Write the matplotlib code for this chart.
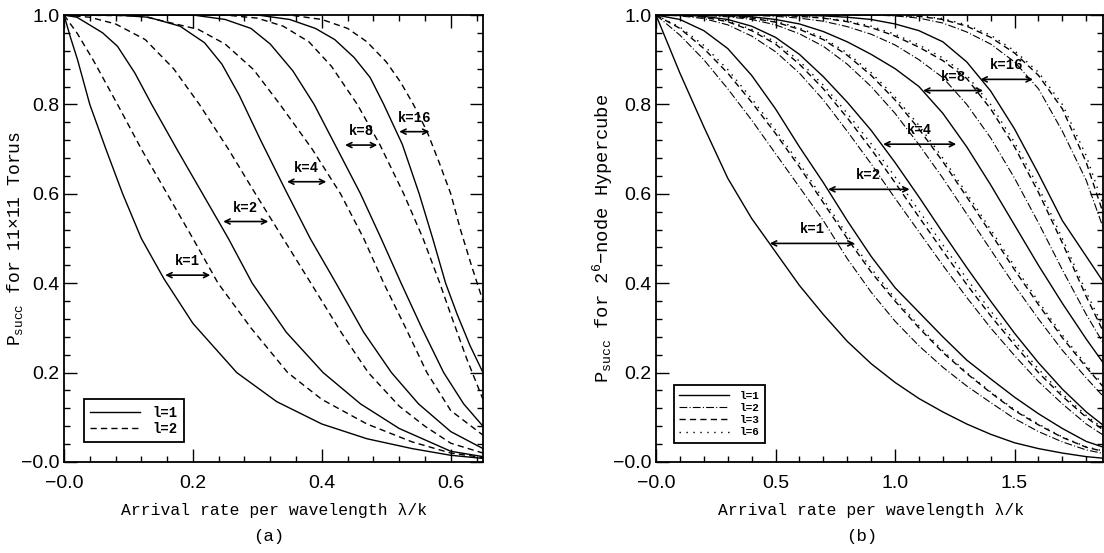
import matplotlib
matplotlib.use("Agg")
import matplotlib.pyplot as plt
from matplotlib.ticker import MultipleLocator, FixedLocator, FixedFormatter

plt.rcParams['mathtext.fontset'] = 'custom'
plt.rcParams['mathtext.rm'] = 'Liberation Mono'
plt.rcParams['mathtext.it'] = 'Liberation Mono:italic'
plt.rcParams['mathtext.bf'] = 'Liberation Mono:bold'

MONO = 'Liberation Mono'
SANS = 'Liberation Sans'

# ---------------- Panel (a): 11x11 Torus ----------------
a_k1_l1_x = [0, 0.01, 0.021, 0.04, 0.065, 0.091, 0.12, 0.155, 0.2, 0.268, 0.33, 0.4, 0.47, 0.54, 0.6, 0.65]
a_k1_l1_y = [1.0, 0.95, 0.90, 0.80, 0.70, 0.60, 0.50, 0.41, 0.31, 0.20, 0.135, 0.085, 0.052, 0.03, 0.015, 0.008]
a_k1_l2_x = [0, 0.02, 0.045, 0.083, 0.12, 0.16, 0.2, 0.239, 0.29, 0.347, 0.4, 0.47, 0.54, 0.6, 0.65]
a_k1_l2_y = [1.0, 0.96, 0.90, 0.80, 0.70, 0.60, 0.50, 0.40, 0.30, 0.20, 0.14, 0.085, 0.045, 0.02, 0.01]
a_k2_l1_x = [0, 0.02, 0.035, 0.06, 0.083, 0.11, 0.136, 0.175, 0.215, 0.255, 0.292, 0.345, 0.402, 0.46, 0.52, 0.6, 0.65]
a_k2_l1_y = [1.0, 0.995, 0.982, 0.96, 0.93, 0.87, 0.80, 0.70, 0.60, 0.50, 0.40, 0.29, 0.20, 0.13, 0.075, 0.024, 0.012]
a_k2_l2_x = [0, 0.04, 0.08, 0.126, 0.17, 0.21, 0.255, 0.297, 0.34, 0.383, 0.43, 0.472, 0.52, 0.56, 0.6, 0.65]
a_k2_l2_y = [1.0, 0.995, 0.98, 0.945, 0.88, 0.80, 0.70, 0.60, 0.50, 0.40, 0.29, 0.20, 0.125, 0.08, 0.042, 0.02]
a_k4_l1_x = [0, 0.08, 0.131, 0.18, 0.218, 0.245, 0.272, 0.305, 0.343, 0.382, 0.422, 0.465, 0.508, 0.55, 0.6, 0.65]
a_k4_l1_y = [1.0, 1.0, 0.995, 0.975, 0.938, 0.89, 0.82, 0.72, 0.61, 0.50, 0.40, 0.29, 0.20, 0.13, 0.068, 0.03]
a_k4_l2_x = [0, 0.12, 0.208, 0.25, 0.294, 0.335, 0.385, 0.429, 0.465, 0.496, 0.53, 0.563, 0.6, 0.65]
a_k4_l2_y = [1.0, 0.998, 0.968, 0.935, 0.878, 0.80, 0.70, 0.60, 0.50, 0.40, 0.30, 0.20, 0.115, 0.06]
a_k8_l1_x = [0, 0.2, 0.25, 0.29, 0.32, 0.355, 0.388, 0.424, 0.46, 0.492, 0.523, 0.555, 0.589, 0.62, 0.65]
a_k8_l1_y = [1.0, 1.0, 0.99, 0.97, 0.935, 0.875, 0.80, 0.70, 0.60, 0.50, 0.40, 0.30, 0.20, 0.13, 0.08]
a_k8_l2_x = [0, 0.25, 0.3, 0.34, 0.38, 0.415, 0.455, 0.49, 0.527, 0.557, 0.583, 0.6, 0.625, 0.65]
a_k8_l2_y = [1.0, 1.0, 0.993, 0.975, 0.94, 0.885, 0.80, 0.71, 0.60, 0.50, 0.40, 0.33, 0.23, 0.14]
a_k16_l1_x = [0, 0.3, 0.35, 0.39, 0.42, 0.45, 0.475, 0.496, 0.525, 0.551, 0.572, 0.592, 0.61, 0.63, 0.65]
a_k16_l1_y = [1.0, 1.0, 0.99, 0.97, 0.945, 0.905, 0.86, 0.80, 0.71, 0.60, 0.50, 0.40, 0.33, 0.26, 0.20]
a_k16_l2_x = [0, 0.35, 0.4, 0.44, 0.47, 0.5, 0.522, 0.542, 0.563, 0.582, 0.6, 0.615, 0.632, 0.65]
a_k16_l2_y = [1.0, 1.0, 0.99, 0.97, 0.94, 0.895, 0.85, 0.80, 0.74, 0.67, 0.60, 0.52, 0.44, 0.36]

a_arrow_labels = ['k=1', 'k=2', 'k=4', 'k=8', 'k=16']
a_arrow_y = [0.418, 0.538, 0.627, 0.709, 0.739]
a_arrow_x0 = [0.157, 0.247, 0.346, 0.436, 0.520]
a_arrow_x1 = [0.227, 0.317, 0.407, 0.486, 0.567]

# ---------------- Panel (b): 2^6-node Hypercube ----------------
b_x = [0.0, 0.1, 0.2, 0.3, 0.4, 0.5, 0.6, 0.7, 0.8, 0.9, 1.0, 1.1, 1.2, 1.3, 1.4, 1.5, 1.6, 1.7, 1.8, 1.9]
b_k1_l1 = [1.0, 0.87, 0.75, 0.635, 0.545, 0.47, 0.395, 0.33, 0.27, 0.22, 0.178, 0.142, 0.112, 0.085, 0.062, 0.043, 0.03, 0.02, 0.012, 0.007]
b_k1_l2 = [1.0, 0.955, 0.9, 0.835, 0.765, 0.69, 0.615, 0.54, 0.455, 0.38, 0.315, 0.26, 0.212, 0.17, 0.133, 0.097, 0.068, 0.045, 0.027, 0.016]
b_k1_l3 = [1.0, 0.97, 0.925, 0.87, 0.805, 0.735, 0.66, 0.58, 0.5, 0.425, 0.36, 0.3, 0.245, 0.198, 0.155, 0.115, 0.083, 0.055, 0.033, 0.02]
b_k1_l6 = [1.0, 0.973, 0.932, 0.878, 0.813, 0.743, 0.668, 0.588, 0.508, 0.433, 0.366, 0.305, 0.249, 0.2, 0.157, 0.117, 0.085, 0.056, 0.034, 0.021]
b_k2_l1 = [1.0, 0.99, 0.965, 0.925, 0.865, 0.79, 0.705, 0.625, 0.54, 0.46, 0.39, 0.335, 0.28, 0.228, 0.186, 0.145, 0.108, 0.075, 0.046, 0.028]
b_k2_l2 = [1.0, 0.998, 0.992, 0.978, 0.953, 0.918, 0.87, 0.81, 0.74, 0.667, 0.59, 0.515, 0.44, 0.368, 0.3, 0.238, 0.18, 0.13, 0.085, 0.05]
b_k2_l3 = [1.0, 0.999, 0.995, 0.985, 0.965, 0.935, 0.89, 0.835, 0.77, 0.7, 0.625, 0.548, 0.472, 0.397, 0.327, 0.262, 0.2, 0.147, 0.1, 0.06]
b_k2_l6 = [1.0, 0.999, 0.996, 0.987, 0.968, 0.94, 0.897, 0.843, 0.78, 0.712, 0.638, 0.562, 0.486, 0.41, 0.338, 0.271, 0.208, 0.152, 0.104, 0.063]
b_k4_l1 = [1.0, 1.0, 0.997, 0.99, 0.975, 0.95, 0.912, 0.862, 0.805, 0.742, 0.67, 0.593, 0.513, 0.435, 0.36, 0.288, 0.222, 0.163, 0.112, 0.07]
b_k4_l2 = [1.0, 1.0, 0.999, 0.996, 0.99, 0.978, 0.958, 0.93, 0.89, 0.84, 0.78, 0.71, 0.635, 0.555, 0.475, 0.395, 0.32, 0.25, 0.188, 0.13]
b_k4_l3 = [1.0, 1.0, 1.0, 0.998, 0.993, 0.984, 0.968, 0.945, 0.91, 0.865, 0.81, 0.745, 0.672, 0.593, 0.512, 0.43, 0.352, 0.278, 0.212, 0.15]
b_k4_l6 = [1.0, 1.0, 1.0, 0.998, 0.994, 0.986, 0.971, 0.949, 0.915, 0.871, 0.817, 0.753, 0.68, 0.601, 0.52, 0.438, 0.359, 0.284, 0.217, 0.155]
b_k8_l1 = [1.0, 1.0, 1.0, 0.999, 0.996, 0.99, 0.98, 0.963, 0.94, 0.912, 0.88, 0.84, 0.78, 0.705, 0.62, 0.53, 0.44, 0.355, 0.275, 0.2]
b_k8_l2 = [1.0, 1.0, 1.0, 1.0, 0.999, 0.997, 0.993, 0.986, 0.974, 0.957, 0.933, 0.9, 0.86, 0.8, 0.725, 0.635, 0.535, 0.43, 0.33, 0.24]
b_k8_l3 = [1.0, 1.0, 1.0, 1.0, 1.0, 0.999, 0.997, 0.993, 0.985, 0.972, 0.953, 0.928, 0.898, 0.858, 0.79, 0.705, 0.603, 0.49, 0.37, 0.26]
b_k8_l6 = [1.0, 1.0, 1.0, 1.0, 1.0, 0.999, 0.997, 0.994, 0.987, 0.975, 0.957, 0.933, 0.904, 0.865, 0.8, 0.715, 0.615, 0.5, 0.38, 0.27]
b_k16_l1 = [1.0, 1.0, 1.0, 1.0, 1.0, 1.0, 0.999, 0.998, 0.995, 0.99, 0.98, 0.965, 0.94, 0.895, 0.83, 0.745, 0.645, 0.54, 0.46, 0.38]
b_k16_l2 = [1.0, 1.0, 1.0, 1.0, 1.0, 1.0, 1.0, 1.0, 1.0, 1.0, 0.998, 0.993, 0.982, 0.962, 0.935, 0.895, 0.835, 0.74, 0.63, 0.48]
b_k16_l3 = [1.0, 1.0, 1.0, 1.0, 1.0, 1.0, 1.0, 1.0, 1.0, 1.0, 0.999, 0.997, 0.99, 0.975, 0.95, 0.915, 0.865, 0.79, 0.67, 0.51]
b_k16_l6 = [1.0, 1.0, 1.0, 1.0, 1.0, 1.0, 1.0, 1.0, 1.0, 1.0, 0.999, 0.998, 0.992, 0.978, 0.955, 0.92, 0.872, 0.8, 0.685, 0.53]

b_arrow_labels = ['k=1', 'k=2', 'k=4', 'k=8', 'k=16']
b_arrow_y = [0.489, 0.61, 0.711, 0.831, 0.856]
b_arrow_x0 = [0.476, 0.72, 0.95, 1.117, 1.357]
b_arrow_x1 = [0.831, 1.061, 1.256, 1.368, 1.577]

a_xticks = [0.0, 0.2, 0.4, 0.6]
a_xticklabels = ['\u22120.0', '0.2', '0.4', '0.6']
b_xticks = [0.0, 0.5, 1.0, 1.5]
b_xticklabels = ['\u22120.0', '0.5', '1.0', '1.5']
yticks = [0.0, 0.2, 0.4, 0.6, 0.8, 1.0]
yticklabels = ['\u22120.0', '0.2', '0.4', '0.6', '0.8', '1.0']

# ---------------- styles ----------------
LW = 1.0
sty_solid = dict(color='black', lw=LW, linestyle='-')
sty_dash = dict(color='black', lw=LW, linestyle=(0, (4.5, 3)))
sty_dashdot = dict(color='black', lw=0.8, linestyle=(0, (7, 2, 1, 2)))
sty_dot = dict(color='black', lw=1.0, linestyle=(0, (1, 4)))

W, H = 1104, 553
fig = plt.figure(figsize=(W / 100, H / 100), dpi=100)

def px_axes(left, right, top, bottom):
    return fig.add_axes([left / W, 1 - bottom / H, (right - left) / W, (bottom - top) / H])

A_L, A_R = 64, 483
B_L, B_R = 656, 1103
axA = px_axes(A_L, A_R, 15, 462)
axB = px_axes(B_L, B_R, 15, 462)


def style_axes(ax, xlim, xticks, xlabels, xminor):
    ax.set_xlim(*xlim)
    ax.set_ylim(0, 1.0)
    ax.xaxis.set_major_locator(FixedLocator(xticks))
    ax.xaxis.set_major_formatter(FixedFormatter(xlabels))
    ax.xaxis.set_minor_locator(MultipleLocator(xminor))
    ax.yaxis.set_major_locator(FixedLocator(yticks))
    ax.yaxis.set_major_formatter(FixedFormatter(yticklabels))
    ax.yaxis.set_minor_locator(MultipleLocator(0.04))
    ax.tick_params(which='both', direction='in', top=True, right=True, width=1.0, colors='black')
    ax.tick_params(which='major', length=9.5)
    ax.tick_params(which='minor', length=4)
    ax.tick_params(axis='x', which='major', pad=9)
    ax.tick_params(axis='y', which='major', pad=3)
    for lab in ax.get_xticklabels() + ax.get_yticklabels():
        lab.set_fontfamily(SANS)
        lab.set_fontsize(14)
    for s in ax.spines.values():
        s.set_linewidth(1.3)


style_axes(axA, (0, 0.65), a_xticks, a_xticklabels, 0.04)
style_axes(axB, (0, 1.87), b_xticks, b_xticklabels, 0.1)

# panel (a) curves
axA.plot(a_k1_l1_x, a_k1_l1_y, **sty_solid, label='l=1')
axA.plot(a_k1_l2_x, a_k1_l2_y, **sty_dash, label='l=2')
axA.plot(a_k2_l1_x, a_k2_l1_y, **sty_solid)
axA.plot(a_k2_l2_x, a_k2_l2_y, **sty_dash)
axA.plot(a_k4_l1_x, a_k4_l1_y, **sty_solid)
axA.plot(a_k4_l2_x, a_k4_l2_y, **sty_dash)
axA.plot(a_k8_l1_x, a_k8_l1_y, **sty_solid)
axA.plot(a_k8_l2_x, a_k8_l2_y, **sty_dash)
axA.plot(a_k16_l1_x, a_k16_l1_y, **sty_solid)
axA.plot(a_k16_l2_x, a_k16_l2_y, **sty_dash)

# panel (b) curves
groups = [
    (b_k1_l1, b_k1_l2, b_k1_l3, b_k1_l6),
    (b_k2_l1, b_k2_l2, b_k2_l3, b_k2_l6),
    (b_k4_l1, b_k4_l2, b_k4_l3, b_k4_l6),
    (b_k8_l1, b_k8_l2, b_k8_l3, b_k8_l6),
    (b_k16_l1, b_k16_l2, b_k16_l3, b_k16_l6),
]
for gi, (y1, y2, y3, y6) in enumerate(groups):
    axB.plot(b_x, y1, **sty_solid, label='l=1' if gi == 0 else None)
    axB.plot(b_x, y2, **sty_dashdot, label='l=2' if gi == 0 else None)
    axB.plot(b_x, y3, **sty_dash, label='l=3' if gi == 0 else None)
    axB.plot(b_x, y6, **sty_dot, label='l=6' if gi == 0 else None)


def draw_arrows(ax, labels, ys, x0s, x1s):
    for lab, y, x0, x1 in zip(labels, ys, x0s, x1s):
        ax.annotate('', xy=(x1, y), xytext=(x0, y),
                    arrowprops=dict(arrowstyle='<->', color='black', lw=1.2,
                                    shrinkA=0, shrinkB=0, mutation_scale=9))
        ax.annotate(lab, xy=((x0 + x1) / 2, y), xytext=(0, 5), textcoords='offset points',
                    ha='center', va='bottom', fontfamily=MONO, fontsize=10, fontweight='bold')


draw_arrows(axA, a_arrow_labels, a_arrow_y, a_arrow_x0, a_arrow_x1)
draw_arrows(axB, b_arrow_labels, b_arrow_y, b_arrow_x0, b_arrow_x1)

legA = axA.legend(loc='lower left', bbox_to_anchor=(0.048, 0.045), borderaxespad=0,
                  prop={'family': MONO, 'size': 10, 'weight': 'bold'}, handlelength=3.6,
                  fancybox=False, framealpha=1, edgecolor='black', borderpad=0.45,
                  labelspacing=0.15, handletextpad=0.9)
legA.get_frame().set_linewidth(1.3)
legB = axB.legend(loc='lower left', bbox_to_anchor=(0.040, 0.0425), borderaxespad=0,
                  prop={'family': MONO, 'size': 8, 'weight': 'bold'}, handlelength=4.5,
                  fancybox=False, framealpha=1, edgecolor='black', borderpad=0.5,
                  labelspacing=0.2, handletextpad=0.9)
legB.get_frame().set_linewidth(1.3)

# axis labels
XLAB_CENTER = {axA: 274, axB: 871}
CAP_CENTER = {axA: 269, axB: 862}
YLAB_OFFSET = {axA: 49, axB: 53}
for ax, ylab, cap, left, right, ysize in [
        (axA, 'P$_{\\rm succ}$ for 11\u00d711 Torus', '(a)', A_L, A_R, 13),
        (axB, 'P$_{\\rm succ}$ for 2$^{\\rm 6}$\u2212node Hypercube', '(b)', B_L, B_R, 13.5)]:
    width_px = right - left
    ax.set_xlabel('Arrival rate per wavelength \u03bb/k', fontfamily=MONO, fontsize=11.8)
    ax.xaxis.set_label_coords((XLAB_CENTER[ax] - left) / width_px, -48 / 447)
    ax.xaxis.label.set_va('center')
    ax.set_ylabel(ylab, fontfamily=MONO, fontsize=ysize)
    ax.yaxis.set_label_coords(-YLAB_OFFSET[ax] / width_px, 0.5)
    ax.yaxis.label.set_va('center')
    fig.text(CAP_CENTER[ax] / W, 1 - 537 / H, cap, ha='center', va='center',
             fontfamily=MONO, fontsize=12.5)

fig.savefig('out.png', dpi=100)
